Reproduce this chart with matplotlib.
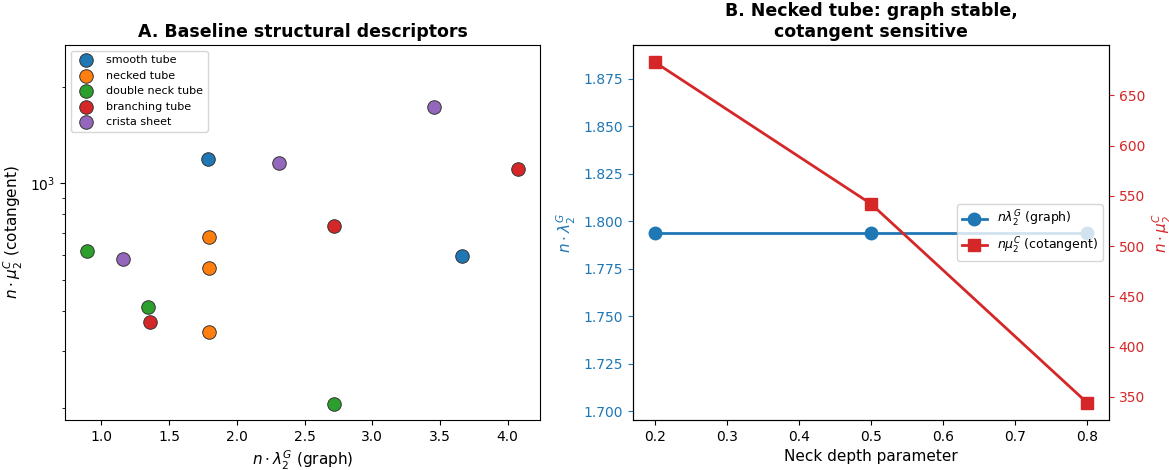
import matplotlib
matplotlib.use("Agg")
import matplotlib.pyplot as plt

# panel A data: (graph, cotangent) per shape
shapes = ["smooth tube", "necked tube", "double neck tube", "branching tube", "crista sheet"]
shape_colors = ["tab:blue", "tab:orange", "tab:green", "tab:red", "tab:purple"]
graph_vals = [
    [1.79, 3.66],
    [1.794, 1.794, 1.794],
    [0.89, 1.34, 2.72],
    [1.36, 2.72, 4.08],
    [1.16, 2.31, 3.46],
]
cot_vals = [
    [1188, 592],
    [682, 543, 345],
    [615, 412, 206],
    [369, 736, 1106],
    [581, 1154, 1729],
]

# panel B data
neck_depth = [0.2, 0.5, 0.8]
lam_graph = [1.794, 1.794, 1.794]
mu_cot = [683, 542, 344]

fig = plt.figure(figsize=(11.69, 4.70), dpi=100)
ax1 = fig.add_axes([65 / 1169, 50 / 470, 475 / 1169, 375 / 470])
ax2 = fig.add_axes([633 / 1169, 50 / 470, 476 / 1169, 375 / 470])

for name, c, gx, cy in zip(shapes, shape_colors, graph_vals, cot_vals):
    ax1.scatter(gx, cy, s=95, color=c, edgecolor="#333333", linewidth=0.7, label=name, zorder=3)
ax1.set_yscale("log")
ax1.set_ylim(183, 2700)
ax1.set_xlabel(r"$n\cdot\lambda_2^G$ (graph)", fontsize=11)
ax1.set_ylabel(r"$n\cdot\mu_2^C$ (cotangent)", fontsize=11)
ax1.set_title("A. Baseline structural descriptors", fontsize=12.5, fontweight="bold")
ax1.legend(loc="upper left", fontsize=8)

# panel B: twin axes
l1, = ax2.plot(neck_depth, lam_graph, "-o", color="tab:blue", lw=2, ms=9,
               label=r"$n\lambda_2^G$ (graph)")
ax2.set_ylim(1.794 * 0.945, 1.794 * 1.055)
ax2.set_ylabel(r"$n\cdot\lambda_2^G$", color="tab:blue", fontsize=11)
ax2.tick_params(axis="y", colors="tab:blue")
ax2.set_xlabel("Neck depth parameter", fontsize=11)
ax2.set_title("B. Necked tube: graph stable,\ncotangent sensitive", fontsize=12.5, fontweight="bold")

ax3 = ax2.twinx()
l2, = ax3.plot(neck_depth, mu_cot, "-s", color="tab:red", lw=2, ms=9,
               label=r"$n\mu_2^C$ (cotangent)")
ax3.set_ylabel(r"$n\cdot\mu_2^C$", color="tab:red", fontsize=11)
ax3.tick_params(axis="y", colors="tab:red")
ax3.legend([l1, l2], [l1.get_label(), l2.get_label()], loc="center right", fontsize=9)

fig.savefig("out.png", dpi=100)
